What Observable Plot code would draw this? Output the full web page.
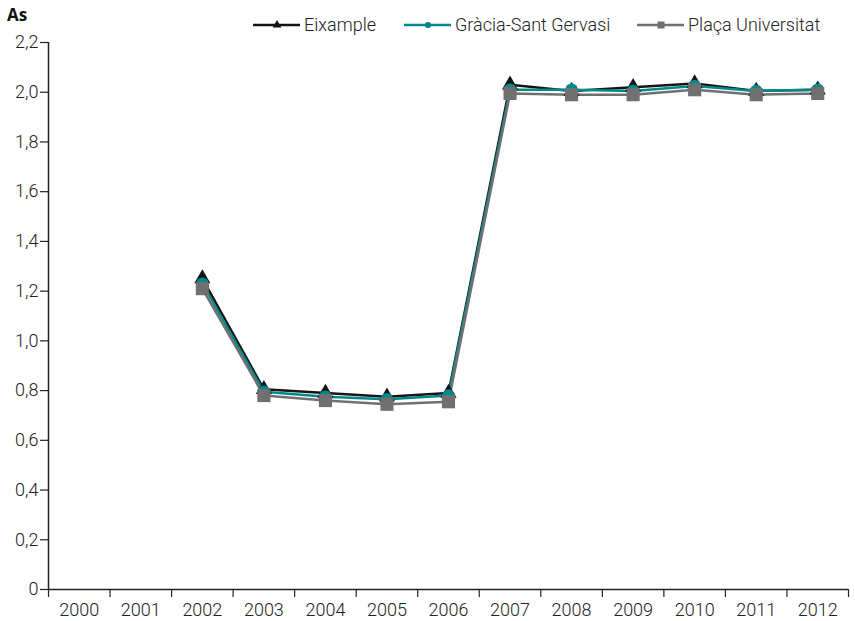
<!DOCTYPE html>
<html>
<head>
<meta charset="utf-8">
<script src="https://cdn.jsdelivr.net/npm/d3@7"></script>
<script src="https://cdn.jsdelivr.net/npm/@observablehq/plot@0.6"></script>
<style>
  body { margin: 0; background: #fff; font-family: Roboto, sans-serif; }
  #wrap { position: relative; width: 855px; height: 621px; }
  #title { position: absolute; left: 7px; top: 3px; font-family: "Open Sans", sans-serif; font-weight: 700; font-size: 17px; color: #111; }
  .item { position: absolute; top: 15px; display: flex; align-items: center; font-size: 18px; font-weight: 300; color: #222; line-height: 20px; }
  .item svg { display: block; }
</style>
</head>
<body>
<div id="wrap">
  <div id="chart"></div>
  <div id="title">As</div>
</div>
<script>
const years = [2000, 2001, 2002, 2003, 2004, 2005, 2006, 2007, 2008, 2009, 2010, 2011, 2012];
const seriesNames = ["Eixample", "Gràcia-Sant Gervasi", "Plaça Universitat"];
const eixample = [null, null, 1.25, 0.805, 0.79, 0.775, 0.79, 2.03, 2.005, 2.02, 2.035, 2.005, 2.01];
const gracia   = [null, null, 1.23, 0.795, 0.775, 0.765, 0.78, 2.01, 2.01, 2.005, 2.025, 2.005, 2.01];
const placa    = [null, null, 1.21, 0.78, 0.76, 0.745, 0.755, 1.995, 1.99, 1.99, 2.01, 1.99, 1.995];
const yTicks = [0, 0.2, 0.4, 0.6, 0.8, 1.0, 1.2, 1.4, 1.6, 1.8, 2.0, 2.2];

const colors = ["#151515", "#00898c", "#707070"];
const symbols = ["triangle", "circle", "square"];
const radii = [6, 6.3, 7.4];

const allSeries = [eixample, gracia, placa];
const rows = [];
allSeries.forEach((vals, si) => {
  years.forEach((yr, i) => {
    if (vals[i] != null) rows.push({series: seriesNames[si], year: yr, value: vals[i]});
  });
});

const fmt = d => d === 0 ? "0" : d.toFixed(1).replace(".", ",");
const boundaries = d3.range(years.length + 1).map(i => years[0] - 0.5 + i);

const marks = [
  Plot.axisX(boundaries, {label: null, tickSize: 8, tickFormat: () => "", stroke: "#222", strokeWidth: 1.2}),
  Plot.axisX(years, {label: null, tickSize: 0, tickPadding: 14, tickFormat: d => String(d), fontSize: 18, fontWeight: 300, fill: "#222"}),
  Plot.axisY(yTicks, {label: null, tickSize: 8, tickPadding: 2, tickFormat: fmt, fontSize: 18, fontWeight: 300, fill: "#222", stroke: "#222", strokeWidth: 1.2}),
  Plot.ruleY([0], {stroke: "#222", strokeWidth: 1.5}),
  Plot.ruleX([years[0] - 0.5], {stroke: "#222", strokeWidth: 1.5})
];
seriesNames.forEach((name, si) => {
  const data = rows.filter(r => r.series === name);
  marks.push(Plot.line(data, {x: "year", y: "value", stroke: colors[si], strokeWidth: 2.5}));
});
seriesNames.forEach((name, si) => {
  const data = rows.filter(r => r.series === name);
  marks.push(Plot.dot(data, {x: "year", y: "value", symbol: () => symbols[si], r: radii[si], fill: colors[si], stroke: "none"}));
});

const chart = Plot.plot({
  width: 855,
  height: 621,
  marginLeft: 48,
  marginRight: 7,
  marginTop: 42,
  marginBottom: 32,
  style: {fontFamily: "Roboto, sans-serif", fontSize: "18px", background: "#fff"},
  x: {type: "linear", domain: [years[0] - 0.5, years[years.length - 1] + 0.5], axis: null},
  y: {domain: [0, 2.2], axis: null},
  symbol: {type: "identity"},
  marks
});
document.getElementById("chart").appendChild(chart);

// legend
const wrap = document.getElementById("wrap");
const lefts = [253, 404, 637];
seriesNames.forEach((name, si) => {
  const item = document.createElement("div");
  item.className = "item";
  item.style.left = lefts[si] + "px";
  const sw = d3.create("svg").attr("width", 48).attr("height", 20);
  sw.append("line").attr("x1", 0).attr("x2", 47).attr("y1", 10).attr("y2", 10).attr("stroke", colors[si]).attr("stroke-width", 2.5);
  const sym = [d3.symbolTriangle, d3.symbolCircle, d3.symbolSquare][si];
  const size = [34, 30, 50][si];
  sw.append("path").attr("transform", "translate(24,10)").attr("d", d3.symbol(sym, size)()).attr("fill", colors[si]);
  item.appendChild(sw.node());
  const t = document.createElement("span");
  t.textContent = name;
  t.style.marginLeft = "3px";
  item.appendChild(t);
  wrap.appendChild(item);
});
</script>
</body>
</html>
